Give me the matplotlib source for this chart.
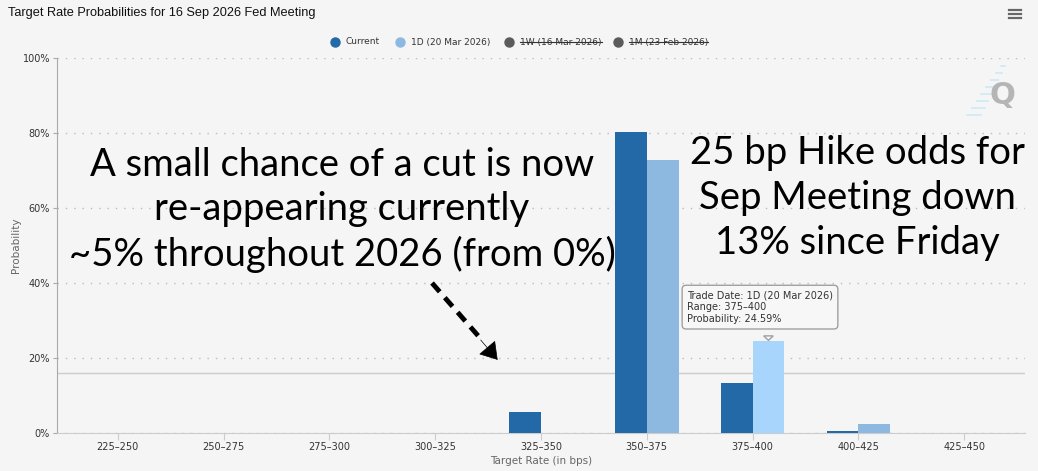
import numpy as np
import matplotlib
matplotlib.use("Agg")
import matplotlib.pyplot as plt
from matplotlib.lines import Line2D
from matplotlib.patches import Polygon

# data (probability in %)
ranges = ["225–250", "250–275", "275–300", "300–325", "325–350",
          "350–375", "375–400", "400–425", "425–450"]
current = [0, 0, 0, 0, 5.6, 80.3, 13.3, 0.5, 0]
one_day = [0, 0, 0, 0, 0, 72.8, 24.59, 2.4, 0]
hover_idx = 6
crosshair = 16

c_cur = "#2369a8"
c_1d = "#8db9e0"
c_hover = "#a8d5fb"
bg = "#f5f5f5"

plt.rcParams["font.family"] = ["DejaVu Sans"]
fig = plt.figure(figsize=(10.38, 4.71), dpi=100, facecolor=bg)
ax = fig.add_axes([57/1038, 1-433/471, (1025-57)/1038, (433-58)/471], facecolor=bg)

x = np.arange(len(ranges))
w = 0.3
ax.bar(x - w/2, current, w, color=c_cur, zorder=3)
cols = [c_hover if i == hover_idx else c_1d for i in range(len(ranges))]
ax.bar(x + w/2, one_day, w, color=cols, zorder=3)

ax.set_xlim(-0.575, len(ranges) - 1 + 0.575)
ax.set_ylim(0, 100)
ax.set_yticks(range(0, 101, 20))
ax.set_yticklabels([f"{v}%" for v in range(0, 101, 20)])
ax.set_xticks(x)
ax.set_xticklabels(ranges)
ax.tick_params(axis="both", labelsize=7, colors="#333333")
ax.tick_params(axis="y", length=3, color="#aaaaaa", pad=2)
ax.tick_params(axis="x", length=5, color="#cccccc", pad=1.5)
ax.grid(axis="y", linestyle=(0, (1, 5)), color="#bbbbbb", linewidth=1, zorder=0)
for s in ["top", "right"]:
    ax.spines[s].set_visible(False)
ax.spines["left"].set_color("#aaaaaa")
ax.spines["bottom"].set_color("#cccccc")
ax.set_ylabel("Probability", fontsize=7.5, color="#666666")
ax.yaxis.set_label_coords(-36/968, 0.5)
ax.set_xlabel("Target Rate (in bps)", fontsize=7.5, color="#666666")
ax.xaxis.set_label_coords(0.5, -23/375)
ax.axhline(crosshair, color="#cccccc", lw=1, zorder=2)

# title and menu icon
fig.text(8/1038, 1-13/471, "Target Rate Probabilities for 16 Sep 2026 Fed Meeting",
         fontsize=9.2, family="Liberation Sans", va="center", ha="left", color="#111111")
for dy in (-4, 0, 4):
    fig.add_artist(Line2D([1009/1038, 1021/1038], [1-(14+dy)/471]*2,
                          transform=fig.transFigure, color="#666666", lw=1.6))

# legend
leg = [("Current", c_cur, 335, False), ("1D (20 Mar 2026)", c_1d, 400, False),
       ("1W (16 Mar 2026)", "#5b5b5b", 509, True), ("1M (23 Feb 2026)", "#5b5b5b", 618, True)]
ly = 1 - 42/471
leg_texts = []
for lab, col, px, strike in leg:
    fig.add_artist(Line2D([px/1038], [ly], transform=fig.transFigure, marker="o",
                          markersize=6.5, color=col, lw=0))
    t = fig.text((px + 11)/1038, ly, lab, fontsize=6.5, color="#333333", va="center")
    leg_texts.append((t, strike))

# watermark
for k in range(8):
    yy = 1 - (66 + k*7)/471
    xr = 1005 - k*3.4
    fig.add_artist(Line2D([(xr - 4 - k*1.5)/1038, xr/1038], [yy, yy],
                          transform=fig.transFigure, color="#cde9f7", lw=1.2))
fig.text(1002/1038, 1-96/471, "Q", fontsize=22, fontweight="bold", color="#b5b5b5",
         ha="center", va="center", family="DejaVu Sans")

# tooltip
tip_x = hover_idx + w/2
ax.text(5.38, 38.1, "Trade Date: 1D (20 Mar 2026)\nRange: 375–400\nProbability: 24.59%",
        fontsize=7, color="#333333", va="top", ha="left", linespacing=1.25, zorder=6,
        bbox=dict(boxstyle="round,pad=0.5,rounding_size=0.4", fc="#f7f7f7",
                  ec="#a0a0a0", lw=1))
ax.add_patch(Polygon([[tip_x - 0.045, 25.9], [tip_x + 0.045, 25.9],
                      [tip_x, 24.7]], closed=True, fc="#f7f7f7",
                     ec="#a0a0a0", lw=1, zorder=7))

# commentary
big = dict(fontsize=27.5, family=["Lato", "DejaVu Sans"], color="black",
           ha="center", va="center", linespacing=1.3)
fig.text(342/1038, 1-210/471,
         "A small chance of a cut is now\nre-appearing currently\n~5% throughout 2026 (from 0%)", **big)
fig.text(857/1038, 1-198/471, "25 bp Hike odds for\nSep Meeting down\n13% since Friday", **big)

# dashed arrow
ax.plot([2.97, 3.45], [40, 24.5], color="black", lw=3.5, linestyle=(0, (2.4, 1.6)),
        solid_capstyle="butt", dash_capstyle="butt", zorder=5)
ax.annotate("", xy=(3.59, 19.5), xytext=(3.43, 24.8),
            arrowprops=dict(arrowstyle="-|>,head_length=1.1,head_width=0.7",
                            color="black", lw=0.5, shrinkA=0, shrinkB=0), zorder=5)

# strike-through for hidden legend entries
fig.canvas.draw()
r = fig.canvas.get_renderer()
for t, strike in leg_texts:
    if strike:
        bb = t.get_window_extent(r).transformed(fig.transFigure.inverted())
        ym = (bb.y0 + bb.y1) / 2
        fig.add_artist(Line2D([bb.x0, bb.x1], [ym, ym], transform=fig.transFigure,
                              color="#333333", lw=0.8))

fig.savefig("out.png", dpi=100, facecolor=bg)
